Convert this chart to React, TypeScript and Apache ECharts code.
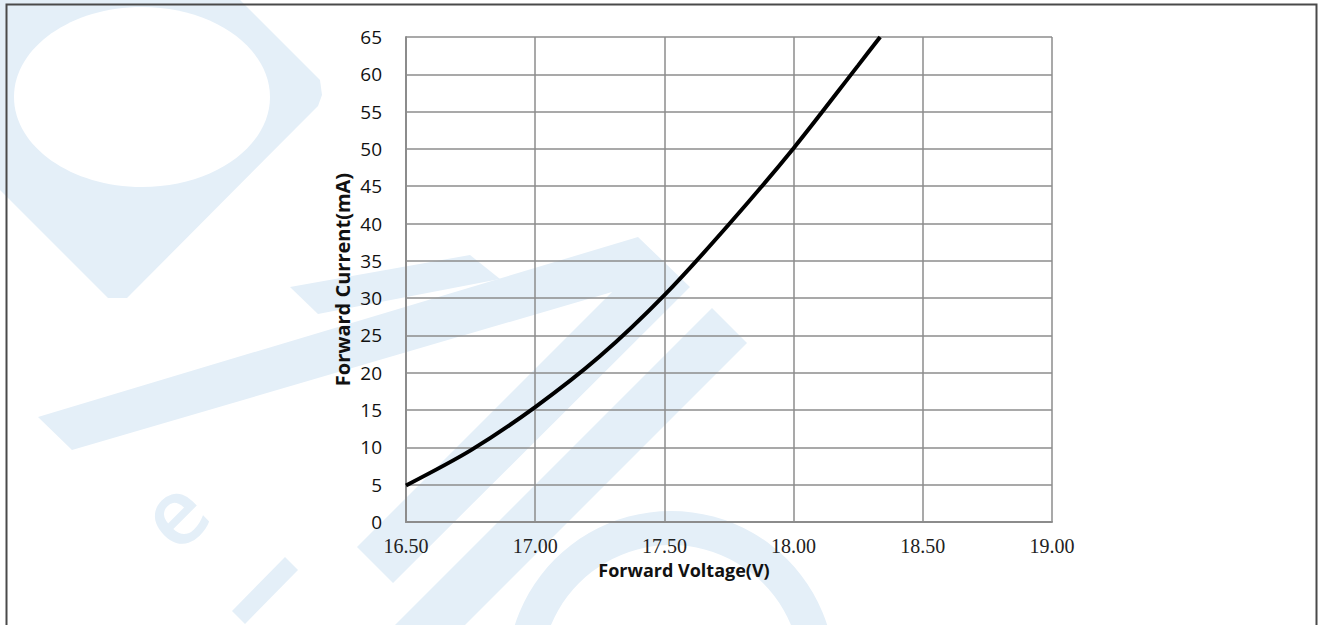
import React, { useEffect, useRef } from "react";
import * as echarts from "echarts";

// Forward voltage (V) vs forward current (mA)
const voltage = [16.5, 16.75, 17.0, 17.25, 17.5, 17.75, 18.0, 18.25, 18.335];
const current = [4.9, 9.6, 15.4, 22.2, 30.4, 39.9, 50.1, 61.2, 65.0];

const xMin = 16.5;
const xMax = 19.0;
const xStep = 0.5;
const yMin = 0;
const yMax = 65;
const yStep = 5;

const xTitle = "Forward Voltage(V)";
const yTitle = "Forward Current(mA)";

const WM = "#e4eff8";

export default function App() {
  const ref = useRef<HTMLDivElement>(null);

  useEffect(() => {
    if (!ref.current) return;
    const chart = echarts.init(ref.current, undefined, { renderer: "svg" });

    const points = voltage.map((v, i) => [v, current[i]]);

    const watermark: any[] = [
      // big rounded diamond with elliptical hole (top-left)
      {
        type: "polygon",
        z: -10,
        shape: {
          points: [
            [0, 0],
            [240, 0],
            [320, 80],
            [322, 95],
            [318, 106],
            [127, 298],
            [108, 298],
            [0, 190],
          ],
        },
        style: { fill: WM },
      },
      {
        type: "ellipse",
        z: -9,
        shape: { cx: 142, cy: 97, rx: 128, ry: 90 },
        style: { fill: "#ffffff" },
      },
      // long band + diagonal return ("7" shape)
      {
        type: "polygon",
        z: -10,
        shape: {
          points: [
            [38, 417],
            [638, 237],
            [690, 287],
            [393, 583],
            [357, 547],
            [612, 292],
            [72, 450],
          ],
        },
        style: { fill: WM },
      },
      // small wedge above the long band
      {
        type: "polygon",
        z: -10,
        shape: {
          points: [
            [290, 287],
            [470, 255],
            [500, 279],
            [318, 314],
          ],
        },
        style: { fill: WM },
      },
      // second diagonal band
      {
        type: "polygon",
        z: -10,
        shape: {
          points: [
            [712, 308],
            [747, 343],
            [435, 655],
            [365, 655],
          ],
        },
        style: { fill: WM },
      },
      // ring at the bottom
      {
        type: "ring",
        z: -10,
        shape: { cx: 671, cy: 675, r: 164, r0: 130 },
        style: { fill: WM },
      },
      // dash
      {
        type: "polygon",
        z: -10,
        shape: {
          points: [
            [232, 611],
            [285, 557],
            [298, 570],
            [245, 624],
          ],
        },
        style: { fill: WM },
      },
      // letter e
      {
        type: "text",
        z: -10,
        x: 172,
        y: 512,
        rotation: Math.PI / 4,
        style: {
          text: "e",
          fill: WM,
          font: "600 92px 'Open Sans', sans-serif",
          align: "center",
          verticalAlign: "middle",
        },
      },
      // outer frame
      {
        type: "rect",
        z: -5,
        shape: { x: 6.5, y: 4.5, width: 1310, height: 700 },
        style: { fill: "none", stroke: "#4a4a4a", lineWidth: 2 },
      },
    ];

    chart.setOption({
      animation: false,
      backgroundColor: "#ffffff",
      graphic: { elements: watermark },
      grid: { left: 406, right: 270, top: 37, bottom: 103, containLabel: false },
      xAxis: {
        type: "value",
        min: xMin,
        max: xMax,
        interval: xStep,
        name: xTitle,
        nameLocation: "middle",
        nameGap: 38,
        nameTextStyle: {
          fontFamily: "'Open Sans', sans-serif",
          fontWeight: "bold",
          fontSize: 18,
          color: "#111",
          padding: [0, 90, 0, 0],
        },
        axisLine: { show: true, lineStyle: { color: "#8c8c8c", width: 2 } },
        axisTick: { show: false },
        splitLine: { show: true, lineStyle: { color: "#8c8c8c", width: 1.5 } },
        axisLabel: {
          margin: 14,
          fontFamily: "'Liberation Serif', serif",
          fontSize: 20,
          color: "#222",
          formatter: (v: number) => v.toFixed(2),
        },
      },
      yAxis: {
        type: "value",
        min: yMin,
        max: yMax,
        interval: yStep,
        name: yTitle,
        nameLocation: "middle",
        nameGap: 54,
        nameTextStyle: {
          fontFamily: "'Open Sans', sans-serif",
          fontWeight: "bold",
          fontSize: 20,
          color: "#111",
        },
        axisLine: { show: true, lineStyle: { color: "#8c8c8c", width: 2 } },
        axisTick: { show: false },
        splitLine: { show: true, lineStyle: { color: "#8c8c8c", width: 1.5 } },
        axisLabel: {
          margin: 24,
          fontFamily: "'Open Sans', sans-serif",
          fontSize: 19,
          color: "#111",
        },
      },
      series: [
        {
          type: "line",
          data: points,
          smooth: 0.3,
          showSymbol: false,
          symbol: "none",
          lineStyle: { color: "#000", width: 4 },
          clip: true,
        },
      ],
    });

    return () => chart.dispose();
  }, []);

  return (
    <div
      ref={ref}
      style={{ position: "fixed", left: 0, top: 0, width: 1322, height: 625 }}
    />
  );
}
